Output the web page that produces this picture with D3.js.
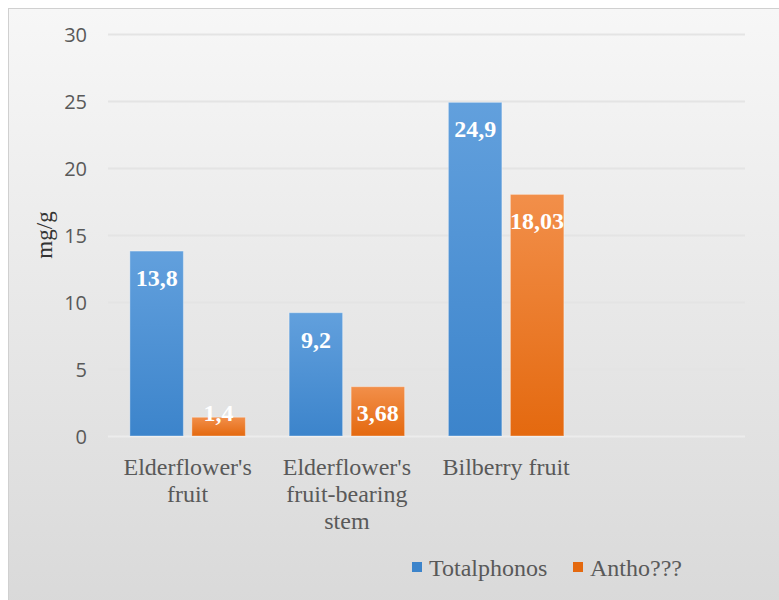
<!DOCTYPE html>
<html>
<head>
<meta charset="utf-8">
<script src="https://cdn.jsdelivr.net/npm/d3@7"></script>
<style>
  html, body { margin: 0; padding: 0; background: #fff; }
  svg { display: block; }
</style>
</head>
<body>
<svg id="chart"></svg>
<script>
const categories = ["Elderflower's fruit", "Elderflower's fruit-bearing stem", "Bilberry fruit", ""];
const seriesNames = ["Totalphonos", "Antho???"];
const totalValues = [13.8, 9.2, 24.9, null];
const anthoValues = [1.4, 3.68, 18.03, null];
const valueLabels = [["13,8", "9,2", "24,9", ""], ["1,4", "3,68", "18,03", ""]];
const yTicks = [0, 5, 10, 15, 20, 25, 30];
const yTitle = "mg/g";

const width = 779, height = 600;
const plot = {left: 108, right: 745, top: 34, bottom: 436};
const textColor = "#595959";
const serif = "'Liberation Serif', 'Times New Roman', serif";

const svg = d3.select("#chart").attr("width", width).attr("height", height);
const defs = svg.append("defs");

const bg = defs.append("linearGradient").attr("id", "bg").attr("x1", 0).attr("y1", 0).attr("x2", 0).attr("y2", 1);
bg.append("stop").attr("offset", "0%").attr("stop-color", "#f7f7f7");
bg.append("stop").attr("offset", "100%").attr("stop-color", "#d9d9d9");

const barColors = [["#62a0dd", "#3c84cb"], ["#f28f4a", "#e4690f"]];
barColors.forEach((c, i) => {
  const g = defs.append("linearGradient").attr("id", "bar" + i).attr("x1", 0).attr("y1", 0).attr("x2", 0).attr("y2", 1);
  g.append("stop").attr("offset", "0%").attr("stop-color", c[0]);
  g.append("stop").attr("offset", "100%").attr("stop-color", c[1]);
});

svg.append("rect")
  .attr("x", 8.5).attr("y", 8.5)
  .attr("width", width).attr("height", height)
  .attr("fill", "url(#bg)")
  .attr("stroke", "#d0d0d0");

const x0 = d3.scaleBand().domain(categories).range([plot.left, plot.right]);
const x1 = d3.scaleBand().domain(seriesNames).range([0, x0.bandwidth()])
  .paddingInner(0.137).paddingOuter(0.353);
const y = d3.scaleLinear().domain([0, 30]).range([plot.bottom, plot.top]);

// gridlines
svg.append("g")
  .selectAll("line")
  .data(yTicks)
  .join("line")
  .attr("x1", plot.left).attr("x2", plot.right)
  .attr("y1", d => y(d) + 0.5).attr("y2", d => y(d) + 0.5)
  .attr("stroke", d => d === 0 ? "#ececec" : "#e4e4e4")
  .attr("stroke-width", 2);

// y axis
const yAxis = svg.append("g")
  .attr("transform", `translate(${plot.left - 21},0)`)
  .call(d3.axisLeft(y).tickValues(yTicks).tickSize(0).tickPadding(0));
yAxis.select(".domain").remove();
yAxis.selectAll("text")
  .attr("fill", textColor)
  .attr("font-family", "'Open Sans', sans-serif")
  .attr("font-size", 20)
  .attr("dy", "0.35em");

svg.append("text")
  .attr("transform", `translate(52,${y(15)}) rotate(-90)`)
  .attr("text-anchor", "middle")
  .attr("font-family", serif)
  .attr("font-size", 23)
  .attr("fill", "#333")
  .text(yTitle);

// bars
const series = [totalValues, anthoValues];
series.forEach((vals, si) => {
  const g = svg.append("g");
  const data = categories.map((c, i) => ({c, v: vals[i], label: valueLabels[si][i]})).filter(d => d.v != null);
  g.selectAll("rect")
    .data(data)
    .join("rect")
    .attr("x", d => x0(d.c) + x1(seriesNames[si]))
    .attr("width", x1.bandwidth())
    .attr("y", d => y(d.v))
    .attr("height", d => y(0) - y(d.v))
    .attr("fill", `url(#bar${si})`)
    .attr("stroke", "rgba(255,255,255,0.35)")
    .attr("stroke-width", 1);
  g.selectAll("text")
    .data(data)
    .join("text")
    .attr("x", d => x0(d.c) + x1(seriesNames[si]) + x1.bandwidth() / 2)
    .attr("y", d => Math.min(y(d.v) + 35, y(0) - 15))
    .attr("text-anchor", "middle")
    .attr("font-family", serif)
    .attr("font-weight", "bold")
    .attr("font-size", 24)
    .attr("fill", "#fff")
    .text(d => d.label);
});

// category labels
const xAxis = svg.append("g")
  .attr("transform", `translate(0,${plot.bottom})`)
  .call(d3.axisBottom(x0).tickSize(0).tickPadding(0));
xAxis.select(".domain").remove();
xAxis.selectAll("text").remove();
xAxis.selectAll(".tick").each(function(d) {
  const t = d3.select(this).append("text")
    .attr("text-anchor", "middle")
    .attr("font-family", serif)
    .attr("font-size", 24)
    .attr("fill", textColor);
  const words = d.split(" ").filter(w => w);
  const lines = [];
  let line = [];
  words.forEach(w => {
    const test = line.concat(w).join(" ");
    t.text(test);
    if (line.length && t.node().getComputedTextLength() > 150) {
      lines.push(line.join(" "));
      line = [w];
    } else line.push(w);
  });
  if (line.length) lines.push(line.join(" "));
  t.text(null);
  lines.forEach((l, i) => t.append("tspan").attr("x", 0).attr("y", 39 + i * 27).text(l));
});

// legend
const legendItems = [{name: seriesNames[0], x: 412}, {name: seriesNames[1], x: 573}];
const legend = svg.append("g");
legendItems.forEach((it, i) => {
  legend.append("rect")
    .attr("x", it.x).attr("y", 562)
    .attr("width", 10).attr("height", 10)
    .attr("fill", barColors[i][1]);
  legend.append("text")
    .attr("x", it.x + 17).attr("y", 576)
    .attr("font-family", serif)
    .attr("font-size", 24)
    .attr("fill", textColor)
    .text(it.name);
});
</script>
</body>
</html>
